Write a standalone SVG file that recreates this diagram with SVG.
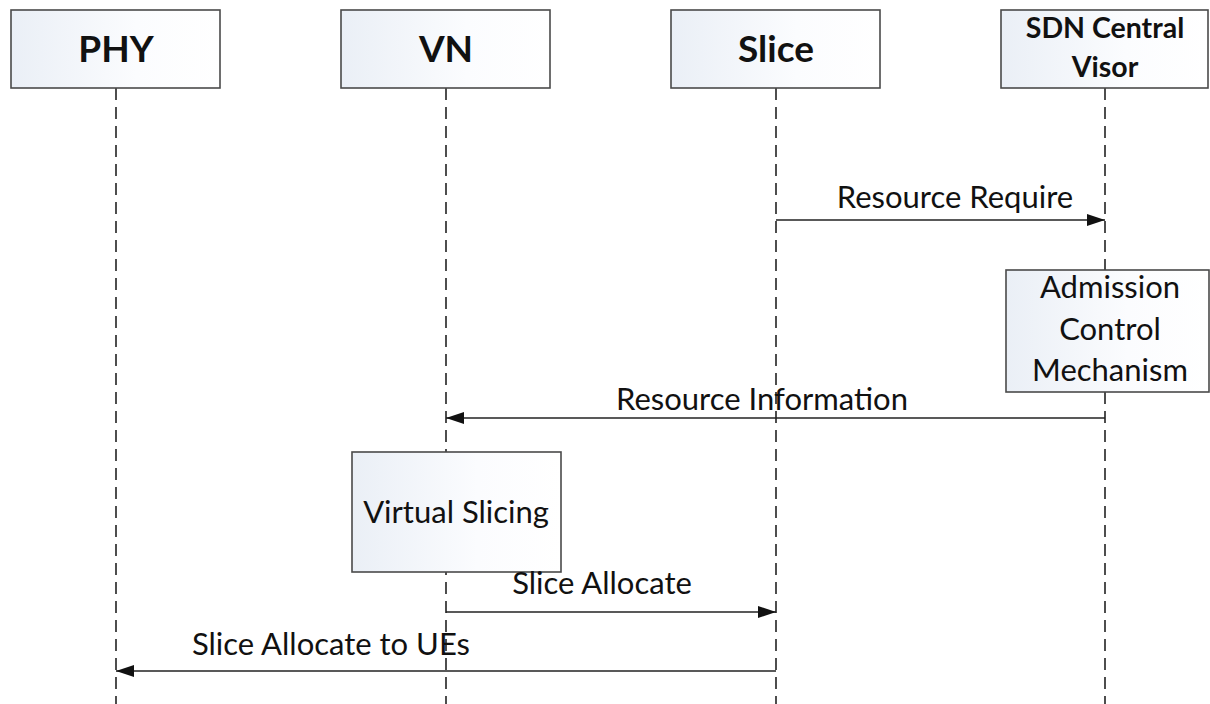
<svg xmlns="http://www.w3.org/2000/svg" width="1210" height="704" viewBox="0 0 1210 704">
<style>
.box{fill:url(#g);stroke:#4a4a4a;stroke-width:1.6}
.life{stroke:#222;stroke-width:1.6;stroke-dasharray:12 7;fill:none}
.msg{stroke:#222;stroke-width:1.6;fill:none}
.hd{font-family:Lato,"Liberation Sans",sans-serif;font-weight:bold;fill:#111;text-anchor:middle}
.lb{font-family:Lato,"Liberation Sans",sans-serif;font-size:31px;fill:#111;text-anchor:middle}
</style>
<defs>
<linearGradient id="g" x1="0" y1="0" x2="1" y2="0">
<stop offset="0" stop-color="#eaeff6"/>
<stop offset="0.6" stop-color="#fbfcfe"/>
<stop offset="1" stop-color="#ffffff"/>
</linearGradient>
<marker id="ah" viewBox="0 0 18 12" refX="18" refY="6" markerWidth="18" markerHeight="12" markerUnits="userSpaceOnUse" orient="auto">
<path d="M0,0 L18,6 L0,12 Z" fill="#111"/>
</marker>
</defs>
<g id="lifelines">
<line class="life" x1="116" y1="88" x2="116" y2="704"/>
<line class="life" x1="446" y1="88" x2="446" y2="704"/>
<line class="life" x1="776" y1="88" x2="776" y2="704"/>
<line class="life" x1="1105" y1="88" x2="1105" y2="704"/>
</g>
<g id="PHY"><rect class="box" x="11" y="10" width="209" height="78"/><text class="hd" x="116" y="62" font-size="37">PHY</text></g>
<g id="VN"><rect class="box" x="341" y="10" width="209" height="78"/><text class="hd" x="446" y="62" font-size="37">VN</text></g>
<g id="Slice"><rect class="box" x="671" y="10" width="209" height="78"/><text class="hd" x="776" y="62" font-size="37">Slice</text></g>
<g id="SDN"><rect class="box" x="1001" y="10" width="207" height="78"/><text class="hd" x="1105" y="38" font-size="28.5">SDN Central</text><text class="hd" x="1105" y="77" font-size="28.5">Visor</text></g>
<g id="Admission"><rect class="box" x="1006" y="270" width="203" height="122"/>
<text class="lb" x="1110" y="298">Admission</text><text class="lb" x="1110" y="340">Control</text><text class="lb" x="1110" y="381">Mechanism</text></g>
<g id="VirtualSlicing"><rect class="box" x="352" y="452" width="209" height="120"/><text class="lb" x="456" y="523">Virtual Slicing</text></g>
<g id="connectors">
<line class="msg" x1="776" y1="220" x2="1105" y2="220" marker-end="url(#ah)"/>
<text class="lb" x="955" y="208">Resource Require</text>
<line class="msg" x1="1105" y1="418" x2="446" y2="418" marker-end="url(#ah)"/>
<text class="lb" x="762" y="410">Resource Information</text>
<line class="msg" x1="446" y1="612" x2="776" y2="612" marker-end="url(#ah)"/>
<text class="lb" x="602" y="594">Slice Allocate</text>
<line class="msg" x1="776" y1="671" x2="116" y2="671" marker-end="url(#ah)"/>
<text class="lb" x="331" y="655">Slice Allocate to UEs</text>
</g>
</svg>
